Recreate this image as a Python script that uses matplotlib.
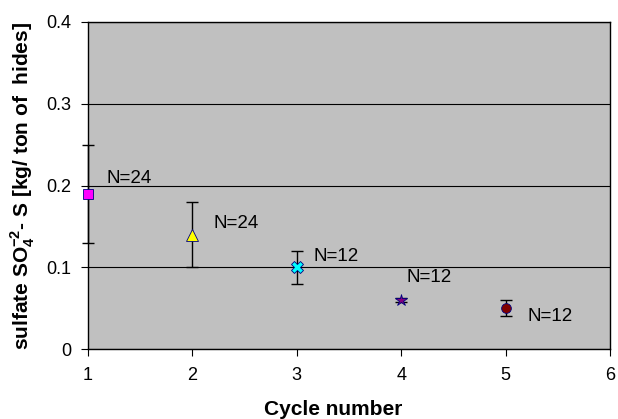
import matplotlib.pyplot as plt

plt.rcParams['font.family'] = ['Liberation Sans', 'DejaVu Sans']
plt.rcParams['mathtext.fontset'] = 'custom'
plt.rcParams['mathtext.rm'] = 'Liberation Sans'
plt.rcParams['mathtext.bf'] = 'Liberation Sans:bold'

# data
cycles = [1, 2, 3, 4, 5]
sulfate = [0.19, 0.14, 0.10, 0.06, 0.05]
err = [0.06, 0.04, 0.02, 0.003, 0.01]
n_labels = ['N=24', 'N=24', 'N=12', 'N=12', 'N=12']
label_pos = [(1.18, 0.209), (2.20, 0.154), (3.16, 0.113), (4.05, 0.088), (5.21, 0.040)]

markers = ['s', '^', 'X', '*', 'o']
colors = ['#FF00FF', '#FFFF00', '#00FFFF', '#800080', '#800000']
sizes = [7, 8, 8, 9, 7]

fig = plt.figure(figsize=(6.18, 4.19), dpi=100)
ax = fig.add_axes([0.1424, 0.167, 0.8446, 0.7805])
ax.set_facecolor('#C0C0C0')

for i in range(len(cycles)):
    ax.errorbar(cycles[i], sulfate[i], yerr=err[i], fmt='none', ecolor='black',
                elinewidth=1, capsize=4.5, capthick=1, zorder=3, clip_on=False)
    ax.plot(cycles[i], sulfate[i], marker=markers[i], color=colors[i],
            markeredgecolor='#000080', markeredgewidth=0.6, markersize=sizes[i],
            linestyle='none', zorder=4, clip_on=False)
    ax.text(label_pos[i][0], label_pos[i][1], n_labels[i], fontsize=13.5,
            ha='left', va='center', zorder=5)

ax.set_xlim(1, 6)
ax.set_ylim(0, 0.4)
ax.set_xticks([1, 2, 3, 4, 5, 6])
ax.set_yticks([0, 0.1, 0.2, 0.3, 0.4])
ax.set_yticklabels(['0', '0.1', '0.2', '0.3', '0.4'])
ax.yaxis.grid(True, color='black', linewidth=0.8)
ax.set_axisbelow(True)
ax.tick_params(labelsize=13, direction='out', length=5, color='black')
ax.tick_params(axis='x', pad=8)
ax.tick_params(axis='y', pad=7)

for s in ax.spines.values():
    s.set_color('black')
    s.set_linewidth(1)

ax.set_xlabel('Cycle number', fontsize=15, fontweight='bold')
ax.xaxis.set_label_coords(0.469, -0.156)
ax.set_ylabel(r'sulfate SO$_\mathbf{4}^\mathbf{-2}$- S [kg/ ton of  hides]',
              fontsize=15, fontweight='bold')
ax.yaxis.set_label_coords(-0.097, 0.5)

fig.savefig('out.png', dpi=100)
